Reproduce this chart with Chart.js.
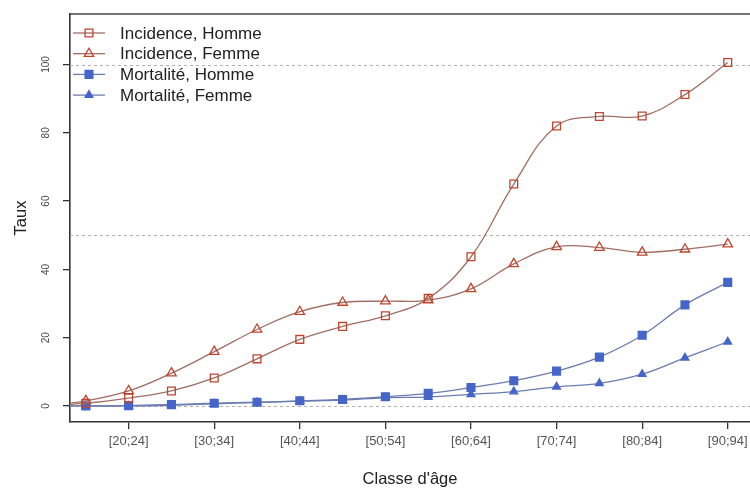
<!DOCTYPE html>
<html>
<head>
<meta charset="utf-8">
<script src="https://cdn.jsdelivr.net/npm/chart.js@4/dist/chart.umd.min.js"></script>
<style>
  body { margin: 0; background: #fff; }
  #box { width: 750px; height: 489px; }
</style>
</head>
<body>
<div id="box"><canvas id="taux" width="750" height="489"></canvas></div>
<script>
// Classes d'âge (la première est hors du cadre, elle sert juste à amorcer la courbe)
const categories = ['[10;14]', '[15;19]', '[20;24]', '[25;29]', '[30;34]', '[35;39]', '[40;44]', '[45;49]',
    '[50;54]', '[55;59]', '[60;64]', '[65;69]', '[70;74]', '[75;79]', '[80;84]', '[85;89]', '[90;94]'];

const incidenceHomme = [0, 0.8, 2.3, 4.4, 8.2, 13.8, 19.5, 23.3, 26.4, 31.5, 43.7, 65.0, 82.0, 84.8, 84.9, 91.2, 100.6];
const incidenceFemme = [0, 1.5, 4.4, 9.6, 15.9, 22.4, 27.6, 30.3, 30.7, 31.0, 34.3, 41.6, 46.6, 46.4, 45.0, 45.9, 47.4];
const mortaliteHomme = [0, 0.0, 0.1, 0.4, 0.8, 1.1, 1.5, 1.9, 2.7, 3.7, 5.4, 7.4, 10.2, 14.3, 20.7, 29.6, 36.2];
const mortaliteFemme = [0, 0.0, 0.0, 0.2, 0.6, 1.0, 1.4, 1.7, 2.4, 2.6, 3.4, 4.2, 5.6, 6.6, 9.3, 14.1, 18.8];

const xTickLabels = ['[20;24]', '[30;34]', '[40;44]', '[50;54]', '[60;64]', '[70;74]', '[80;84]', '[90;94]'];
const yTicks = [0, 20, 40, 60, 80, 100];
const refLines = [0, 50, 100];

const FONT = 'Liberation Sans, Arial, sans-serif';
const ROUGE = '#c0452d', ROUGE_LIGNE = '#a06e62';
const BLEU = '#4565c8', BLEU_LIGNE = '#6c7cb0';

function serie(label, values, style, couleur, ligne, plein, rayon) {
    return {
        label: label,
        data: values.map((v, i) => ({ x: i, y: v })),
        borderColor: ligne,
        borderWidth: 1.3,
        tension: 0.4,
        pointStyle: style,
        pointRadius: rayon,
        pointBorderColor: couleur,
        pointBorderWidth: 1.3,
        pointBackgroundColor: plein ? couleur : 'rgba(255,255,255,0)',
        pointHoverRadius: rayon
    };
}

// lignes pointillées + cadre du haut
const decor = {
    id: 'decor',
    beforeDatasetsDraw(chart) {
        const ctx = chart.ctx, area = chart.chartArea, y = chart.scales.y;
        ctx.save();
        ctx.strokeStyle = '#b0b0b0';
        ctx.lineWidth = 1;
        ctx.setLineDash([3, 3]);
        refLines.forEach(v => {
            const py = Math.round(y.getPixelForValue(v)) + 0.5;
            ctx.beginPath();
            ctx.moveTo(area.left, py);
            ctx.lineTo(area.right, py);
            ctx.stroke();
        });
        ctx.setLineDash([]);
        ctx.strokeStyle = '#444';
        ctx.lineWidth = 1.6;
        ctx.beginPath();
        ctx.moveTo(area.left, area.top);
        ctx.lineTo(area.right, area.top);
        ctx.stroke();
        ctx.restore();
    },
    afterDraw(chart) {
        // légende façon R, dans le coin haut gauche
        const ctx = chart.ctx, area = chart.chartArea;
        ctx.save();
        chart.data.datasets.forEach((ds, i) => {
            const py = area.top + 19 + i * 20.7;
            ctx.strokeStyle = ds.borderColor;
            ctx.lineWidth = 1.3;
            ctx.beginPath();
            ctx.moveTo(area.left + 3, py);
            ctx.lineTo(area.left + 35, py);
            ctx.stroke();
            ctx.strokeStyle = ds.pointBorderColor;
            ctx.fillStyle = ds.pointBackgroundColor;
            ctx.lineWidth = ds.pointBorderWidth;
            Chart.helpers.drawPoint(ctx, { pointStyle: ds.pointStyle, radius: ds.pointRadius, rotation: 0, borderWidth: ds.pointBorderWidth }, area.left + 19, py);
            ctx.fillStyle = '#222';
            ctx.font = '17px ' + FONT;
            ctx.textBaseline = 'middle';
            ctx.textAlign = 'left';
            ctx.fillText(ds.label, area.left + 50, py + 1);
        });
        ctx.restore();
    }
};

new Chart(document.getElementById('taux'), {
    type: 'line',
    data: {
        datasets: [
            serie('Incidence, Homme', incidenceHomme, 'rect', ROUGE, ROUGE_LIGNE, false, 5.5),
            serie('Incidence, Femme', incidenceFemme, 'triangle', ROUGE, ROUGE_LIGNE, false, 5.5),
            serie('Mortalité, Homme', mortaliteHomme, 'rect', BLEU, BLEU_LIGNE, true, 5.5),
            serie('Mortalité, Femme', mortaliteFemme, 'triangle', BLEU, BLEU_LIGNE, true, 4.5)
        ]
    },
    options: {
        responsive: false,
        animation: false,
        layout: { autoPadding: false, padding: { top: 14, right: 0, left: 0, bottom: 0 } },
        plugins: {
            legend: { display: false },
            tooltip: { enabled: false }
        },
        scales: {
            x: {
                type: 'linear',
                min: 0.63,
                max: 16.52,
                grid: { drawOnChartArea: false, drawTicks: true, tickLength: 7, color: '#333', lineWidth: 1.3 },
                border: { display: true, color: '#333', width: 1.6 },
                afterBuildTicks: (scale) => {
                    scale.ticks = xTickLabels.map(l => ({ value: categories.indexOf(l) }));
                },
                afterFit: (scale) => {
                    scale.height = 67;
                    scale.paddingLeft = 0;
                    scale.paddingRight = 0;
                },
                ticks: {
                    autoSkip: false,
                    maxRotation: 0,
                    padding: 5,
                    color: '#555',
                    font: { family: FONT, size: 13 },
                    callback: (v) => categories[v]
                },
                title: {
                    display: true,
                    text: 'Classe d\'âge',
                    color: '#222',
                    font: { family: FONT, size: 16.5 },
                    padding: { top: 4, bottom: 0 }
                }
            },
            y: {
                min: -4.7,
                max: 114.8,
                grid: { drawOnChartArea: false, drawTicks: true, tickLength: 7, color: '#333', lineWidth: 1.3 },
                border: { display: true, color: '#333', width: 1.6 },
                afterBuildTicks: (scale) => {
                    scale.ticks = yTicks.map(v => ({ value: v }));
                },
                afterFit: (scale) => {
                    scale.width = 70;
                    scale.paddingTop = 0;
                    scale.paddingBottom = 0;
                },
                ticks: {
                    minRotation: 90,
                    maxRotation: 90,
                    crossAlign: 'center',
                    padding: 8,
                    color: '#444',
                    font: { family: FONT, size: 10 }
                },
                title: {
                    display: true,
                    text: 'Taux',
                    color: '#222',
                    font: { family: FONT, size: 16.5 },
                    padding: { top: 12, bottom: 0 }
                }
            }
        }
    },
    plugins: [decor]
});
</script>
</body>
</html>
